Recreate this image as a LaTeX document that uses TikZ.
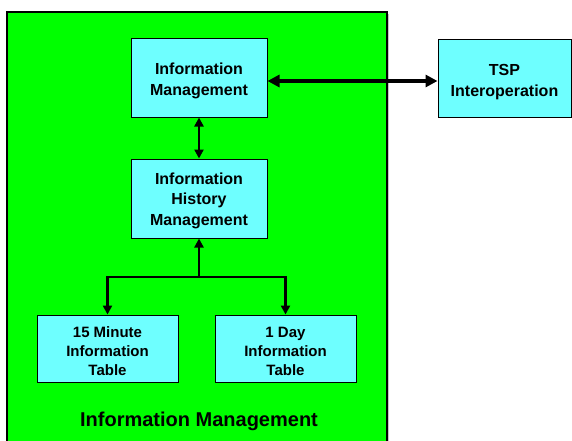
\documentclass[tikz,border=0pt]{standalone}
\usepackage{fontspec}
\setmainfont{Liberation Sans}
\usetikzlibrary{arrows.meta,calc}
\definecolor{panelgreen}{RGB}{0,255,0}
\definecolor{boxcyan}{RGB}{110,255,255}
\tikzset{
  module/.style={draw=black, line width=1pt, fill=boxcyan, inner sep=0pt},
  modtext/.style={align=center, inner sep=0pt, font=\fontsize{16}{20.5}\selectfont\bfseries},
  tabtext/.style={align=center, inner sep=0pt, font=\fontsize{15}{19}\selectfont\bfseries},
  link/.style={line width=2.5pt, -{Triangle[length=9pt,width=9pt]}},
  duplexv/.style={line width=2.5pt, {Triangle[length=9pt,width=9pt]}-{Triangle[length=9pt,width=9pt]}},
  duplexh/.style={line width=3.5pt, {Triangle[length=12pt,width=12pt]}-{Triangle[length=12pt,width=12pt]}},
}
\begin{document}
\begin{tikzpicture}[x=1pt,y=-1pt]
\useasboundingbox (0,0) rectangle (572,441);
% enclosing subsystem panel (runs past the lower edge)
\begin{scope}
\clip (0,0) rectangle (572,441);
\fill[gray!45] (9,14) rectangle (389,450);
\draw[line width=2pt, fill=panelgreen] (7,12) rectangle (387,450);
\end{scope}
% module boxes
\node[module, minimum width=136pt, minimum height=78pt] (im) at (199,78) {};
\node[module, minimum width=136pt, minimum height=79pt] (ih) at (199,198.5) {};
\node[module, minimum width=133pt, minimum height=77pt] (tsp) at (504.5,78.5) {};
\node[module, minimum width=141pt, minimum height=67pt] (t15) at (107.5,348.5) {};
\node[module, minimum width=141pt, minimum height=67pt] (t1d) at (285.5,348.5) {};
% module labels
\node[modtext] (im-l) at ($(im.center)+(0,3)$) {Information\\Management};
\node[modtext] (ih-l) at ($(ih.center)+(0,2)$) {Information\\History\\Management};
\node[modtext] (tsp-l) at ($(tsp.center)+(0,3.5)$) {TSP\\Interoperation};
\node[tabtext] (t15-l) at ($(t15.center)+(0,2.5)$) {15 Minute\\Information\\Table};
\node[tabtext] (t1d-l) at ($(t1d.center)+(0,2.5)$) {1 Day\\Information\\Table};
\node[font=\fontsize{20}{24}\selectfont\bfseries] (title) at (199,421) {Information Management};
% connectors
\coordinate (fork) at (199,277);
\draw[duplexh] ($(im.east)+(0,3)$) -- ($(tsp.west)+(0,2.5)$);
\draw[duplexv] (im.south) -- (ih.north);
\draw[link] (fork) -- (ih.south);
\draw[line width=2.5pt, line cap=rect] (fork -| t15.north) -- (fork -| t1d.north);
\draw[link] (fork -| t15.north) -- (t15.north);
\draw[link] (fork -| t1d.north) -- (t1d.north);
\end{tikzpicture}
\end{document}
